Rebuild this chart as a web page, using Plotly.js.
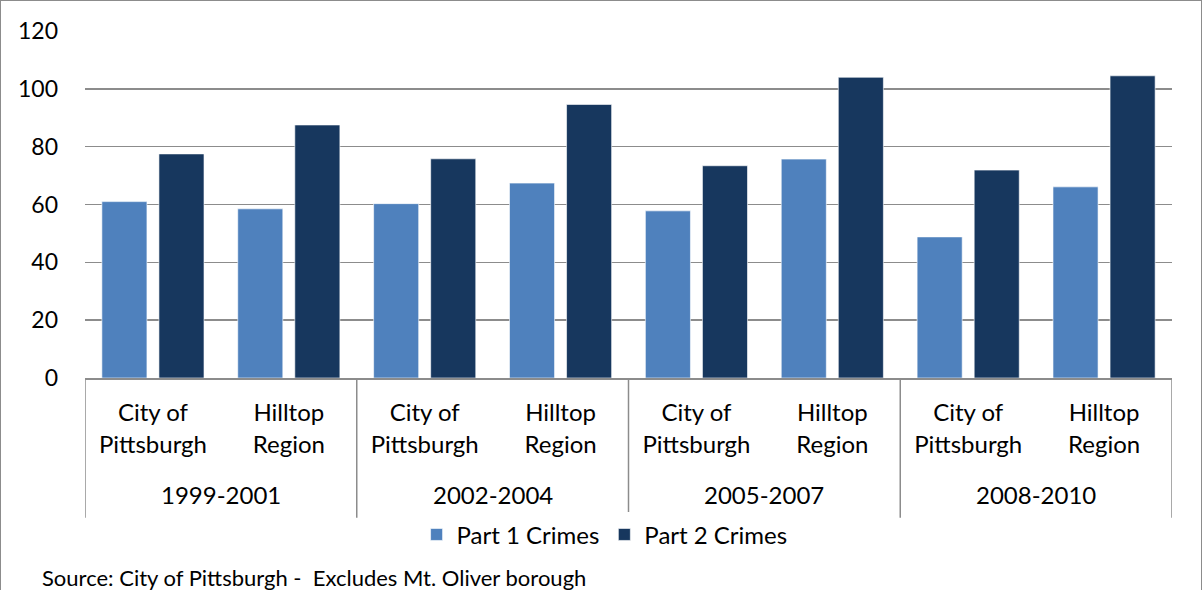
<!DOCTYPE html>
<html><head><meta charset="utf-8">
<script src="https://cdn.plot.ly/plotly-3.0.1.min.js"></script>
<style>
html,body{margin:0;padding:0;background:#fff;overflow:hidden;}
#wrap{position:relative;width:1202px;height:590px;}
#chart{width:1202px;height:590px;}
#frame{position:absolute;left:0;top:0;width:1200px;height:600px;border:1px solid #8c8c8c;pointer-events:none;}
</style></head>
<body>
<div id="wrap"><div id="chart"></div><div id="frame"></div></div>
<script>
const periods = ["1999-2001", "2002-2004", "2005-2007", "2008-2010"];
const areas = ["City of<br>Pittsburgh", "Hilltop<br>Region"];
const part1 = [61, 58.5, 60.3, 67.4, 57.8, 75.7, 48.8, 66.1];
const part2 = [77.5, 87.5, 75.8, 94.6, 73.4, 104.0, 71.9, 104.5];
const seriesNames = ["Part 1 Crimes", "Part 2 Crimes"];
const colors = ["#4F81BD", "#17375E"];
const sourceNote = "Source: City of Pittsburgh -  Excludes Mt. Oliver borough";

const keys = [], tickText = [];
periods.forEach(p => areas.forEach(a => { keys.push(p + " | " + a); tickText.push(a); }));

const font = "Lato, 'Open Sans', sans-serif";
const gray = "#8c8c8c";
const traces = [part1, part2].map((vals, i) => ({
  type: "bar",
  name: seriesNames[i],
  x: keys,
  y: vals,
  marker: {color: colors[i], line: {color: "rgba(255,255,255,0.6)", width: 1}},
  hoverinfo: "y"
}));

const nPer = areas.length;
const shapes = [];
for (let g = 0; g <= periods.length; g++) {
  shapes.push({type: "line", xref: "x", yref: "paper",
    x0: g * nPer - 0.5, x1: g * nPer - 0.5, y0: 0, y1: -0.403,
    line: {color: gray, width: 1.5}});
}
const annotations = periods.map((p, g) => ({
  xref: "x", yref: "paper", x: g * nPer + (nPer - 1) / 2, y: -0.337,
  xanchor: "center", yanchor: "middle", text: p, showarrow: false,
  font: {family: font, size: 24, color: "#000"}
}));
annotations.push({
  xref: "paper", yref: "paper", x: -0.0414, y: -0.575, xanchor: "left", yanchor: "middle",
  text: sourceNote, showarrow: false,
  font: {family: font, size: 22, color: "#000"}
});

const layout = {
  width: 1202, height: 590,
  margin: {l: 85, r: 30, t: 31, b: 212},
  paper_bgcolor: "#fff", plot_bgcolor: "#fff",
  barmode: "group", bargap: 0.16, bargroupgap: 0.21,
  font: {family: font, size: 22, color: "#000"},
  showlegend: true,
  legend: {orientation: "h", x: 0.478, xanchor: "center", y: -0.452, yanchor: "middle",
           font: {family: font, size: 24, color: "#000"}, traceorder: "normal"},
  xaxis: {
    type: "category", categoryorder: "array", categoryarray: keys,
    tickvals: keys, ticktext: tickText, range: [-0.5, keys.length - 0.5],
    showline: true, linecolor: gray, linewidth: 1.5,
    ticks: "", ticklabelstandoff: 13, tickfont: {family: font, size: 24, color: "#000"}, automargin: false
  },
  yaxis: {
    range: [0, 120], dtick: 20, showgrid: true, gridcolor: gray, gridwidth: 1.5,
    zeroline: false, showline: false, ticks: "", ticklabelstandoff: 26,
    tickfont: {family: font, size: 23, color: "#000"}, automargin: false
  },
  shapes: shapes,
  annotations: annotations
};
Plotly.newPlot("chart", traces, layout, {displayModeBar: false, staticPlot: true});
</script>
</body></html>
